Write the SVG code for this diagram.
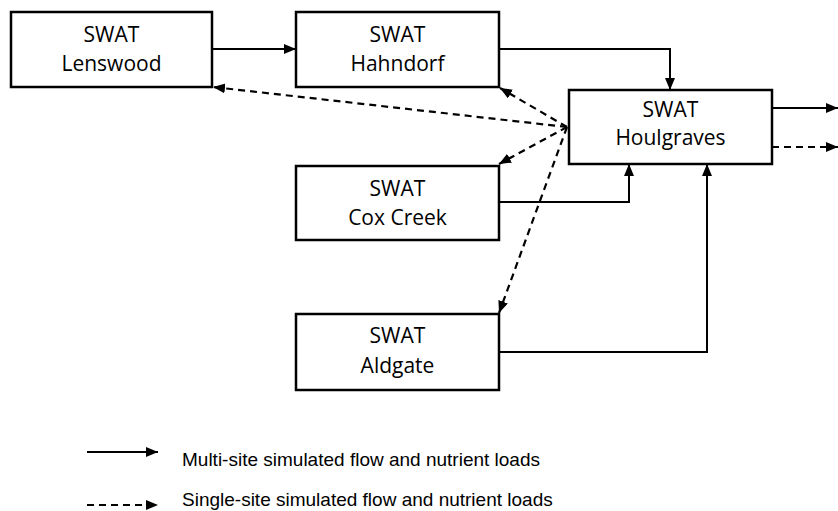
<svg xmlns="http://www.w3.org/2000/svg" width="838" height="511" viewBox="0 0 838 511">
  <style>
    .box { fill: #ffffff; stroke: #000000; stroke-width: 2.5; }
    .lbl { font-family: "Open Sans", "Liberation Sans", sans-serif; font-size: 21px; fill: #000000; text-anchor: middle; }
    .solid { fill: none; stroke: #000000; stroke-width: 2; marker-end: url(#arrow); }
    .dash { fill: none; stroke: #000000; stroke-width: 2.2; stroke-dasharray: 7 5; marker-end: url(#arrow); }
    .leg { font-family: "Liberation Sans", Arial, sans-serif; font-size: 19px; fill: #000000; }
  </style>
  <defs>
    <marker id="arrow" markerUnits="userSpaceOnUse" markerWidth="13" markerHeight="11" refX="12" refY="5" orient="auto">
      <path d="M0,0 L12,5 L0,10 z" fill="#000000"/>
    </marker>
  </defs>
  <rect width="838" height="511" fill="#ffffff"/>

  <g id="connectors">
    <path class="solid" d="M212,49 L296,49"/>
    <path class="solid" d="M499,49 H670 V90"/>
    <path class="solid" d="M499,202 H629 V164"/>
    <path class="solid" d="M499,352 H707 V164"/>
    <path class="solid" d="M772,108 H838"/>
    <path class="dash" d="M772,147 H838"/>
    <path class="dash" d="M567,127 L213,87"/>
    <path class="dash" d="M567,127 L500,88"/>
    <path class="dash" d="M567,127 L499,164"/>
    <path class="dash" d="M567,127 L499,313"/>
  </g>

  <g id="lenswood">
    <rect class="box" x="11" y="12" width="201" height="75"/>
    <text class="lbl" x="111.5" y="42">SWAT</text>
    <text class="lbl" x="111.5" y="71">Lenswood</text>
  </g>
  <g id="hahndorf">
    <rect class="box" x="296" y="12" width="203" height="75"/>
    <text class="lbl" x="397.5" y="42">SWAT</text>
    <text class="lbl" x="397.5" y="71">Hahndorf</text>
  </g>
  <g id="houlgraves">
    <rect class="box" x="569" y="90" width="203" height="74"/>
    <text class="lbl" x="670.5" y="117">SWAT</text>
    <text class="lbl" x="670.5" y="145">Houlgraves</text>
  </g>
  <g id="coxcreek">
    <rect class="box" x="296" y="166" width="203" height="74"/>
    <text class="lbl" x="397.5" y="196">SWAT</text>
    <text class="lbl" x="397.5" y="225">Cox Creek</text>
  </g>
  <g id="aldgate">
    <rect class="box" x="296" y="314" width="203" height="76"/>
    <text class="lbl" x="397.5" y="343">SWAT</text>
    <text class="lbl" x="397.5" y="373">Aldgate</text>
  </g>

  <g id="legend">
    <path class="solid" d="M87,452 H158"/>
    <text class="leg" x="182" y="466">Multi-site simulated flow and nutrient loads</text>
    <path class="dash" d="M87,505 H158"/>
    <text class="leg" x="182" y="506">Single-site simulated flow and nutrient loads</text>
  </g>
</svg>
